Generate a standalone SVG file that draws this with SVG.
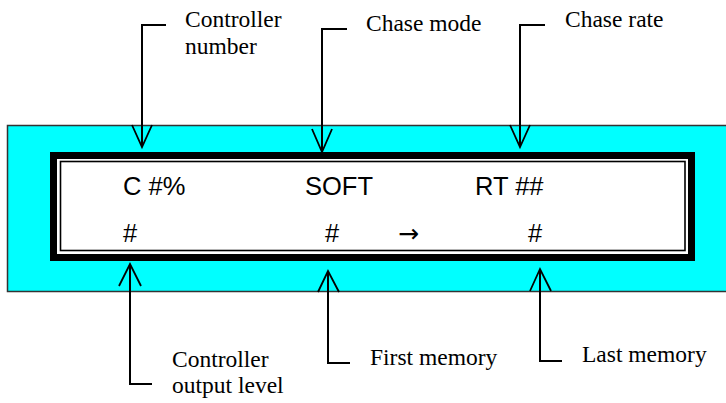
<svg xmlns="http://www.w3.org/2000/svg" width="726" height="403" viewBox="0 0 726 403">
  <style>
    .lcd { font-family: "Liberation Sans", Arial, sans-serif; font-size: 25.5px; fill: #000; }
    .arr { font-family: "DejaVu Sans", sans-serif; font-size: 25px; fill: #000; }
    .lbl { font-family: "Liberation Serif", "Times New Roman", "DejaVu Serif", serif; font-size: 23.5px; fill: #000; }
    .lead { fill: none; stroke: #000; stroke-width: 2; }
    .head { fill: none; stroke: #000; stroke-width: 1.8; stroke-linejoin: miter; }
  </style>

  <!-- panel body -->
  <g id="panel">
    <rect x="7.5" y="125.5" width="730" height="166" fill="#00ffff" stroke="#333" stroke-width="1.5"/>
  </g>

  <!-- display window: heavy outer frame and thin inner rule -->
  <g id="display">
    <rect x="53.5" y="155.5" width="638" height="102" fill="#fff" stroke="#000" stroke-width="7"/>
    <rect x="60.5" y="161.5" width="624.5" height="89" fill="#fff" stroke="#000" stroke-width="1.6"/>
    <text class="lcd" x="123" y="195">C #%</text>
    <text class="lcd" x="305" y="195">SOFT</text>
    <text class="lcd" x="475" y="195">RT ##</text>
    <text class="lcd" x="123" y="242">#</text>
    <text class="lcd" x="325" y="242">#</text>
    <text class="arr" x="398" y="242">→</text>
    <text class="lcd" x="528" y="242">#</text>
  </g>

  <!-- labels -->
  <g id="label-controller-number">
    <text class="lbl" x="185" y="27">Controller</text>
    <text class="lbl" x="185" y="54">number</text>
  </g>
  <g id="label-chase-mode">
    <text class="lbl" x="366" y="31">Chase mode</text>
  </g>
  <g id="label-chase-rate">
    <text class="lbl" x="565" y="27">Chase rate</text>
  </g>
  <g id="label-controller-output">
    <text class="lbl" x="172" y="367">Controller</text>
    <text class="lbl" x="172" y="393">output level</text>
  </g>
  <g id="label-first-memory">
    <text class="lbl" x="370" y="365">First memory</text>
  </g>
  <g id="label-last-memory">
    <text class="lbl" x="582" y="362">Last memory</text>
  </g>

  <!-- leader lines with open arrowheads -->
  <g id="connectors">
    <polyline class="lead" points="166,25 142,25 142,146"/>
    <polyline class="head" points="132,125 142,147 152,125"/>

    <polyline class="lead" points="347,29 322,29 322,151"/>
    <polyline class="head" points="312,129 322,152 332,129"/>

    <polyline class="lead" points="545,25 520,25 520,146"/>
    <polyline class="head" points="510,125 520,147 530,125"/>

    <polyline class="lead" points="152,384 130,384 130,265"/>
    <polyline class="head" points="119,286 130,264 141,286"/>

    <polyline class="lead" points="350,363 328,363 328,272"/>
    <polyline class="head" points="318,292 328,271 339,292"/>

    <polyline class="lead" points="562,361 540,361 540,270"/>
    <polyline class="head" points="530,291 540,269 551,291"/>
  </g>
</svg>
